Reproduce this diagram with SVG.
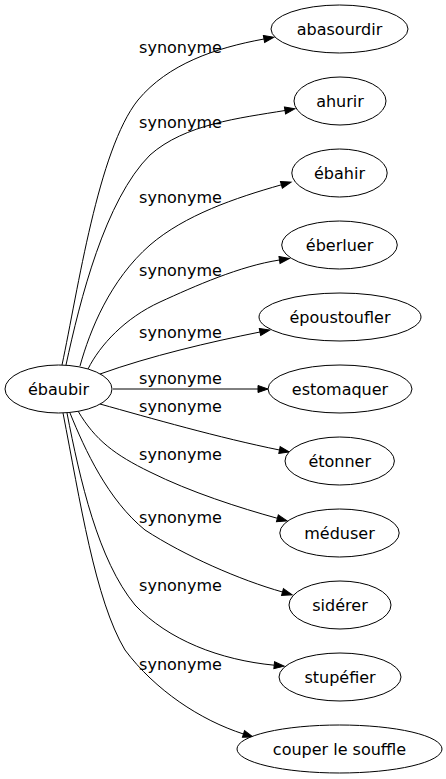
<svg xmlns="http://www.w3.org/2000/svg" width="446" height="779" viewBox="0 0 446 779">
<style>
  .node ellipse { fill: #ffffff; stroke: #000000; stroke-width: 1; }
  text { font-family: "DejaVu Sans", "Liberation Sans", sans-serif; font-size: 16px; fill: #000000; text-anchor: middle; }
  .edges path { fill: none; stroke: #000000; stroke-width: 1; marker-end: url(#arrow); }
</style>
<defs>
  <marker id="arrow" markerUnits="userSpaceOnUse" markerWidth="10" markerHeight="7" refX="0" refY="3.5" orient="auto" overflow="visible">
    <path d="M0,0 L10,3.5 L0,7 z" fill="#000000" stroke="#000000" stroke-width="1"/>
  </marker>
</defs>
<rect width="446" height="779" fill="#ffffff"/>
<g class="edges" id="edges">
  <path d="M62,365 C78,290 98,150 138,100 C168,64 215,48 264,39"/>
  <path d="M66,365 C80,300 105,200 150,155 C185,124 240,118 285,110.5"/>
  <path d="M80,366 C90,330 110,280 150,245 C185,215 235,198 281.4,184.8"/>
  <path d="M88,369 C100,345 125,318 160,302 C195,286 240,266 279.5,260"/>
  <path d="M100,374 C150,356 210,342 260,332"/>
  <path d="M113,389 L258,389"/>
  <path d="M100,404 C150,418 220,438 279.5,450"/>
  <path d="M78,411 C95,440 115,455 150,472 C190,492 240,508 277.4,518.3"/>
  <path d="M70,413 C85,450 108,500 145,530 C185,556 240,580 282.5,592"/>
  <path d="M67,413 C80,480 98,560 135,605 C168,640 220,660 274.2,665.2"/>
  <path d="M63,413 C80,500 95,600 125,650 C155,690 200,720 243.5,734"/>
  <text x="180.5" y="53">synonyme</text>
  <text x="180.5" y="128">synonyme</text>
  <text x="180.5" y="203">synonyme</text>
  <text x="180.5" y="276">synonyme</text>
  <text x="180.5" y="338">synonyme</text>
  <text x="180.5" y="384">synonyme</text>
  <text x="180.5" y="412">synonyme</text>
  <text x="180.5" y="460">synonyme</text>
  <text x="180.5" y="523">synonyme</text>
  <text x="180.5" y="591">synonyme</text>
  <text x="180.5" y="670">synonyme</text>
</g>
<g class="node" id="ebaubir"><ellipse cx="58.5" cy="389" rx="53.5" ry="24"/><text x="58.5" y="394.5">ébaubir</text></g>
<g class="node" id="abasourdir"><ellipse cx="339.5" cy="29" rx="68.5" ry="24"/><text x="339.5" y="34.5">abasourdir</text></g>
<g class="node" id="ahurir"><ellipse cx="340" cy="101" rx="46" ry="24"/><text x="340" y="106.5">ahurir</text></g>
<g class="node" id="ebahir"><ellipse cx="339.5" cy="173" rx="47.7" ry="24"/><text x="339.5" y="178.5">ébahir</text></g>
<g class="node" id="eberluer"><ellipse cx="339.5" cy="245" rx="57.8" ry="24"/><text x="339.5" y="250.5">éberluer</text></g>
<g class="node" id="epoustoufler"><ellipse cx="340" cy="317" rx="81" ry="24"/><text x="340" y="322.5">époustoufler</text></g>
<g class="node" id="estomaquer"><ellipse cx="340" cy="389" rx="72" ry="24"/><text x="340" y="394.5">estomaquer</text></g>
<g class="node" id="etonner"><ellipse cx="339.7" cy="461" rx="54.7" ry="24"/><text x="339.7" y="466.5">étonner</text></g>
<g class="node" id="meduser"><ellipse cx="339.5" cy="533" rx="59.7" ry="24"/><text x="339.5" y="538.5">méduser</text></g>
<g class="node" id="siderer"><ellipse cx="340" cy="605" rx="51" ry="24"/><text x="340" y="610.5">sidérer</text></g>
<g class="node" id="stupefier"><ellipse cx="340" cy="677" rx="61" ry="24"/><text x="340" y="682.5">stupéfier</text></g>
<g class="node" id="couper"><ellipse cx="339.5" cy="749" rx="102.5" ry="24"/><text x="339.5" y="754.5">couper le souffle</text></g>
</svg>
